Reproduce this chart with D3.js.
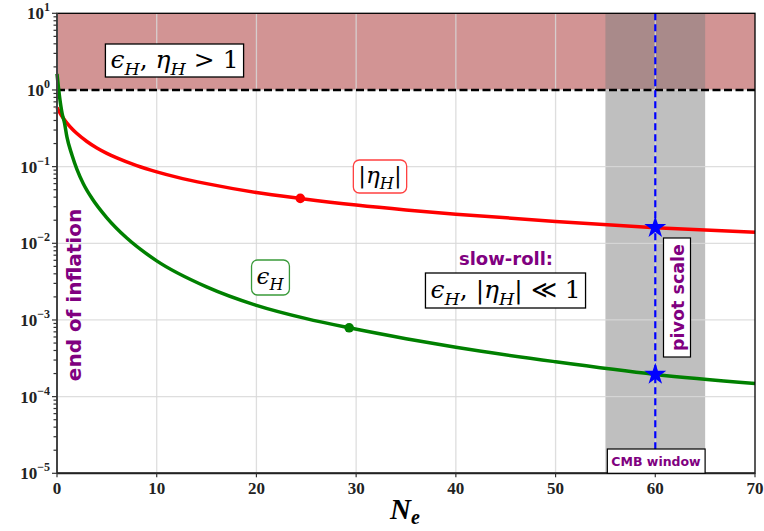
<!DOCTYPE html>
<html><head><meta charset="utf-8">
<script src="https://cdn.jsdelivr.net/npm/d3@7"></script>
<style>
html,body{margin:0;padding:0;background:#fff;}
svg{display:block;}
</style></head>
<body>
<svg id="chart" width="764" height="531"></svg>
<script>
// ---------------- data ----------------
const etaN   = [0, 0.5, 1, 1.5, 2, 3, 4, 5, 6, 8, 10, 12, 15, 20, 24.4, 30, 35, 40, 50, 60, 70];
const etaVal = [0.59, 0.455, 0.37, 0.3125, 0.27, 0.213, 0.175, 0.149, 0.130, 0.103, 0.0855, 0.073, 0.060, 0.046, 0.0385, 0.0315, 0.0272, 0.0240, 0.0193, 0.0160, 0.0139];
const epsN   = [0, 0.25, 0.5, 0.75, 1.0, 1.5, 2.0, 2.64, 3.5, 5, 7, 10, 15, 20, 25, 29.3, 35, 40, 50, 60, 70];
const epsVal = [1.62, 0.83, 0.504, 0.372, 0.242, 0.142, 0.0923, 0.0599, 0.0387, 0.0215, 0.0117, 0.0059, 0.0027, 0.00155, 0.00104, 0.00079, 0.00057, 0.00044, 0.000285, 0.000195, 0.000148];
const etaMarker = {N: 24.4, v: 0.0385};
const epsMarker = {N: 29.3, v: 0.00079};
const pivotN = 60;
const pivotEta = 0.0160, pivotEps = 0.000195;
const cmbWindow = [55, 65];
const xTicks = [0, 10, 20, 30, 40, 50, 60, 70];
const yExponents = [-5, -4, -3, -2, -1, 0, 1];
const threshold = 1;

// ---------------- layout ----------------
const svg = d3.select("#chart");
const L = 57, R = 755, T = 13.3, B = 473.3;
const x = d3.scaleLinear().domain([0, 70]).range([L, R]);
const y = d3.scaleLog().domain([1e-5, 10]).range([B, T]);
const serif = "'Liberation Serif', 'DejaVu Serif', serif";
const mathFont = "'DejaVu Serif', serif";
const sans = "'DejaVu Sans', 'Liberation Sans', sans-serif";
const purple = "#800080";

// bands
svg.append("rect").attr("x", L).attr("y", y(10)).attr("width", R - L).attr("height", y(threshold) - y(10))
  .attr("fill", "#a52a2a").attr("fill-opacity", 0.5);
svg.append("rect").attr("x", x(cmbWindow[0])).attr("y", T).attr("width", x(cmbWindow[1]) - x(cmbWindow[0])).attr("height", B - T)
  .attr("fill", "#808080").attr("fill-opacity", 0.5);

// grid
const grid = svg.append("g").attr("stroke", "#d8d8d8").attr("stroke-opacity", 0.85).attr("stroke-width", 1.3);
xTicks.slice(1, -1).forEach(t => grid.append("line").attr("x1", x(t)).attr("x2", x(t)).attr("y1", T).attr("y2", B));
yExponents.slice(1, -1).forEach(e => grid.append("line").attr("x1", L).attr("x2", R).attr("y1", y(Math.pow(10, e))).attr("y2", y(Math.pow(10, e))));

// threshold dashed line
svg.append("line").attr("x1", L).attr("x2", R).attr("y1", y(threshold)).attr("y2", y(threshold))
  .attr("stroke", "#000").attr("stroke-width", 2.4).attr("stroke-dasharray", "8,3.5");

// pivot line
svg.append("line").attr("x1", x(pivotN)).attr("x2", x(pivotN)).attr("y1", T).attr("y2", B)
  .attr("stroke", "#0000ff").attr("stroke-width", 2.2).attr("stroke-dasharray", "7,4");

// curves
const line = d3.line().x(d => x(d[0])).y(d => y(d[1])).curve(d3.curveMonotoneX);
svg.append("path").datum(etaN.map((n, i) => [n, etaVal[i]])).attr("d", line)
  .attr("fill", "none").attr("stroke", "#ff0000").attr("stroke-width", 3.5);
svg.append("path").datum(epsN.map((n, i) => [n, epsVal[i]])).attr("d", line)
  .attr("fill", "none").attr("stroke", "#008000").attr("stroke-width", 3.5);

// markers
svg.append("circle").attr("cx", x(etaMarker.N)).attr("cy", y(etaMarker.v)).attr("r", 4.8).attr("fill", "#ff0000");
svg.append("circle").attr("cx", x(epsMarker.N)).attr("cy", y(epsMarker.v)).attr("r", 4.8).attr("fill", "#008000");
const star = d3.symbol().type(d3.symbolStar).size(150);
[pivotEta, pivotEps].forEach(v => svg.append("path").attr("d", star)
  .attr("transform", `translate(${x(pivotN)},${y(v)})`).attr("fill", "#0000ff"));

// frame
svg.append("rect").attr("x", L).attr("y", T).attr("width", R - L).attr("height", B - T)
  .attr("fill", "none").attr("stroke", "#000").attr("stroke-width", 1.3);
svg.append("line").attr("x1", L).attr("x2", L).attr("y1", T).attr("y2", B).attr("stroke", "#444").attr("stroke-width", 2);
svg.append("line").attr("x1", L).attr("x2", R).attr("y1", B).attr("y2", B).attr("stroke", "#222").attr("stroke-width", 2);

// y axis ticks
const yt = svg.append("g").attr("stroke", "#333").attr("stroke-width", 1.2);
yExponents.forEach(e => {
  const v = Math.pow(10, e);
  yt.append("line").attr("x1", L - 5).attr("x2", L).attr("y1", y(v)).attr("y2", y(v));
  if (e < 1) for (let k = 2; k <= 9; k++) {
    yt.append("line").attr("x1", L - 3.5).attr("x2", L).attr("y1", y(k * v)).attr("y2", y(k * v));
  }
  const t = svg.append("text").attr("x", 50).attr("y", y(v) + 6).attr("text-anchor", "end")
    .attr("font-family", serif).attr("font-weight", "bold").attr("font-size", 17).attr("fill", "#222");
  t.append("tspan").text("10");
  t.append("tspan").attr("dy", -8).attr("font-size", 12).text(e < 0 ? "\u2212" + (-e) : String(e));
});

// x axis ticks
xTicks.forEach(t => {
  svg.append("line").attr("x1", x(t)).attr("x2", x(t)).attr("y1", B).attr("y2", B + 4).attr("stroke", "#333").attr("stroke-width", 1.2);
  svg.append("text").attr("x", x(t)).attr("y", B + 21).attr("text-anchor", "middle")
    .attr("font-family", serif).attr("font-weight", "bold").attr("font-size", 17).attr("fill", "#222").text(t);
});

// x label
const xl = svg.append("text").attr("x", 405).attr("y", 519).attr("text-anchor", "middle")
  .attr("font-family", serif).attr("font-style", "italic").attr("font-weight", "bold").attr("font-size", 29);
xl.append("tspan").text("N");
xl.append("tspan").attr("dy", 5).attr("font-size", 20).text("e");

// math text helper
function mathText(g, cx, cy, parts, size) {
  const t = g.append("text").attr("x", cx).attr("y", cy).attr("text-anchor", "middle")
    .attr("font-family", mathFont).attr("font-size", size).attr("fill", "#000");
  let shift = 0;
  parts.forEach(p => {
    const ts = t.append("tspan").text(p.t);
    const target = p.sub ? size * 0.28 : 0;
    if (target !== shift) { ts.attr("dy", target - shift); shift = target; }
    if (p.sub) ts.attr("font-size", size * 0.7);
    if (p.it) ts.attr("font-style", "italic");
  });
  return t;
}
function boxed(cx, cy, h, parts, size, stroke, rx, padX) {
  const g = svg.append("g");
  const rect = g.append("rect");
  const t = mathText(g, cx, 0, parts, size);
  let bb = t.node().getBBox();
  const baseY = cy - (bb.y + bb.height / 2) + 1;
  t.attr("y", baseY);
  bb = t.node().getBBox();
  rect.attr("x", bb.x - padX).attr("y", cy - h / 2).attr("width", bb.width + 2 * padX).attr("height", h)
    .attr("rx", rx).attr("fill", "#fff").attr("stroke", stroke).attr("stroke-width", 1.3);
  return g;
}

boxed(174.5, 60.5, 33, [{t: "\u03f5", it: 1}, {t: "H", it: 1, sub: 1}, {t: ", "}, {t: "\u03b7", it: 1}, {t: "H", it: 1, sub: 1}, {t: " > 1"}], 25, "#000", 0, 5);
boxed(380, 176.5, 33, [{t: "|"}, {t: "\u03b7", it: 1}, {t: "H", it: 1, sub: 1}, {t: "|"}], 23, "#ff4040", 6, 5);
boxed(270, 277.5, 35, [{t: "\u03f5", it: 1}, {t: "H", it: 1, sub: 1}], 23, "#3a9a3a", 6, 5);
boxed(505.5, 290.5, 35, [{t: "\u03f5", it: 1}, {t: "H", it: 1, sub: 1}, {t: ", |"}, {t: "\u03b7", it: 1}, {t: "H", it: 1, sub: 1}, {t: "| \u226a 1"}], 25, "#000", 0, 5);

// purple labels
svg.append("text").attr("x", 506).attr("y", 265).attr("text-anchor", "middle")
  .attr("font-family", sans).attr("font-weight", "bold").attr("font-size", 18).attr("fill", purple).text("slow-roll:");
svg.append("text").attr("transform", "translate(81,295) rotate(-90)").attr("text-anchor", "middle")
  .attr("font-family", sans).attr("font-weight", "bold").attr("font-size", 20).attr("fill", purple).text("end of inflation");

// pivot scale box
{
  const g = svg.append("g");
  const r = g.append("rect");
  const t = g.append("text").attr("transform", "translate(683.5,297.5) rotate(-90)").attr("text-anchor", "middle")
    .attr("font-family", sans).attr("font-weight", "bold").attr("font-size", 17.5).attr("fill", purple).text("pivot scale");
  const bb = t.node().getBBox();
  r.attr("x", 683.5 + bb.y - 4).attr("y", 297.5 - bb.width / 2 - 6).attr("width", bb.height + 7).attr("height", bb.width + 12)
    .attr("fill", "#fff").attr("stroke", "#000").attr("stroke-width", 1.2);
}
// CMB window box
{
  const g = svg.append("g");
  const r = g.append("rect");
  const t = g.append("text").attr("x", 656).attr("y", 465.5).attr("text-anchor", "middle")
    .attr("font-family", sans).attr("font-weight", "bold").attr("font-size", 12.5).attr("fill", purple).text("CMB window");
  const bb = t.node().getBBox();
  r.attr("x", bb.x - 4).attr("y", 449).attr("width", bb.width + 8).attr("height", B - 449)
    .attr("fill", "#fff").attr("stroke", "#000").attr("stroke-width", 1.2);
}
</script>
</body></html>
